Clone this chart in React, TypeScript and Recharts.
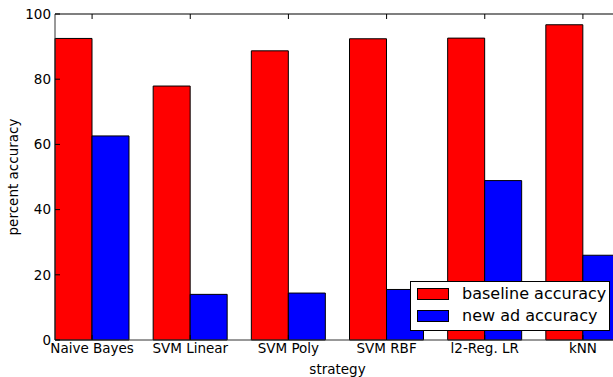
import React from 'react';
import { BarChart, Bar, XAxis, YAxis, Legend, Label } from 'recharts';

const strategies = ['Naive Bayes', 'SVM Linear', 'SVM Poly', 'SVM RBF', 'l2-Reg. LR', 'kNN'];
const baselineAccuracy = [92.5, 77.9, 88.7, 92.4, 92.6, 96.7];
const newAdAccuracy = [62.6, 14.0, 14.4, 15.5, 48.9, 26.0];
const yTicks = [0, 20, 40, 60, 80, 100];

const data = strategies.map((s, i) => ({
  strategy: s,
  baseline: baselineAccuracy[i],
  newAd: newAdAccuracy[i],
}));

const FONT = '"DejaVu Sans", sans-serif';
const tickStyle = { fill: '#000', fontSize: 13.5, fontFamily: FONT };

function LegendBox() {
  const rows = [
    { label: 'baseline accuracy', color: '#FF0000' },
    { label: 'new ad accuracy', color: '#0000FF' },
  ];
  return (
    <div style={{
      boxSizing: 'border-box', width: 200, height: 50, background: '#fff',
      border: '1px solid #000', padding: '1px 0 2px 0', fontFamily: FONT, fontSize: 16, color: '#000',
    }}>
      {rows.map(r => (
        <div key={r.label} style={{ display: 'flex', alignItems: 'center', height: 22 }}>
          <span style={{
            display: 'inline-block', boxSizing: 'border-box', width: 32, height: 12,
            marginLeft: 6, marginRight: 13, background: r.color, border: '1px solid #000',
          }} />
          <span style={{ lineHeight: '22px', whiteSpace: 'nowrap' }}>{r.label}</span>
        </div>
      ))}
    </div>
  );
}

export default function App() {
  return (
    <div style={{ position: 'absolute', left: 0, top: 0, width: 613, height: 377, overflow: 'hidden', background: '#fff' }}>
      <BarChart
        width={640}
        height={377}
        data={data}
        margin={{ top: 13, right: 20, bottom: 0, left: 15 }}
        barGap={0}
        barSize={37}
      >
        <XAxis
          dataKey="strategy"
          height={37}
          padding={{ left: -12, right: -12 }}
          tick={tickStyle}
          tickSize={-5}
          tickMargin={8}
          tickLine={{ stroke: '#000' }}
          axisLine={{ stroke: '#333' }}
          interval={0}
        >
          <Label value="strategy" position="insideBottom" offset={3} style={{ fill: '#000', fontSize: 13.5, fontFamily: FONT }} />
        </XAxis>
        <XAxis
          xAxisId="top"
          orientation="top"
          dataKey="strategy"
          height={1}
          padding={{ left: -12, right: -12 }}
          tick={{ fill: 'none', fontSize: 1 }}
          tickSize={-5}
          tickMargin={0}
          tickFormatter={() => ''}
          tickLine={{ stroke: '#000' }}
          axisLine={{ stroke: '#555', strokeWidth: 1.5 }}
          interval={0}
        />
        <YAxis
          width={40}
          domain={[0, 100]}
          ticks={yTicks}
          tick={tickStyle}
          tickSize={-5}
          tickMargin={9}
          tickLine={{ stroke: '#000' }}
          axisLine={{ stroke: '#333' }}
        >
          <Label
            content={() => (
              <text
                x={13}
                y={177}
                transform="rotate(-90 13 177)"
                textAnchor="middle"
                dominantBaseline="central"
                style={{ fill: '#000', fontSize: 13.5, fontFamily: FONT }}
              >
                percent accuracy
              </text>
            )}
          />
        </YAxis>
        <Legend
          layout="horizontal"
          verticalAlign="middle"
          align="center"
          content={() => <LegendBox />}
          wrapperStyle={{ left: 410, top: 281, width: 200, height: 50 }}
        />
        <Bar dataKey="baseline" name="baseline accuracy" fill="#FF0000" stroke="#000" strokeWidth={1} isAnimationActive={false} />
        <Bar dataKey="newAd" name="new ad accuracy" fill="#0000FF" stroke="#000" strokeWidth={1} isAnimationActive={false} />
      </BarChart>
    </div>
  );
}
